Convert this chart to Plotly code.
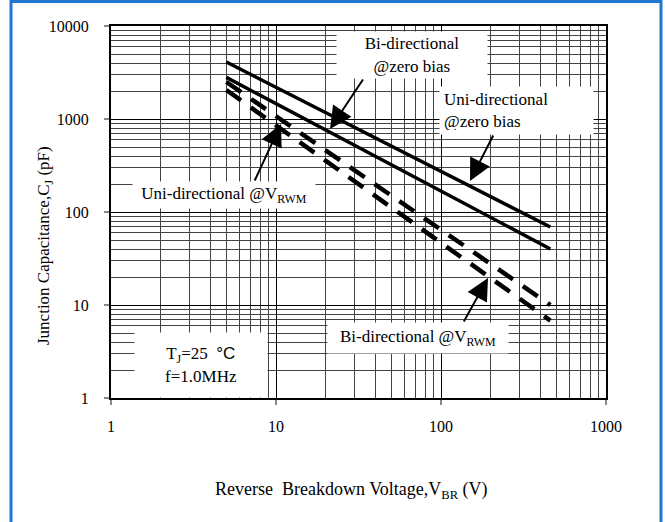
import plotly.graph_objects as go

# ---- data ----
uni_zero_v = [5, 460]
uni_zero_c = [4100, 69]
bi_zero_v = [5, 460]
bi_zero_c = [2800, 40]
uni_rwm_v = [5, 460]
uni_rwm_c = [2500, 10]
bi_rwm_v = [5, 460]
bi_rwm_c = [2050, 6.8]

x_tickvals = [1, 10, 100, 1000]
x_ticktext = ["1", "10", "100", "1000"]
y_tickvals = [1, 10, 100, 1000, 10000]
y_ticktext = ["1", "10", "100", "1000", "10000"]

FONT = "Liberation Serif"
W, H = 665, 522
L, R, T, B = 111, 606, 26, 398


def px(xp):
    return (xp - L) / (R - L)


def py(yp):
    return (B - yp) / (B - T)


def lx(xp):  # pixel -> log10 data x
    return (xp - L) / (R - L) * 3


def ly(yp):  # pixel -> log10 data y
    return 4 - (yp - T) / (B - T) * 4


fig = go.Figure()
solid = dict(color="black", width=3.5)
dashed = dict(color="black", width=4.5, dash="18px,12px")
fig.add_trace(go.Scatter(x=uni_zero_v, y=uni_zero_c, mode="lines", line=solid, showlegend=False))
fig.add_trace(go.Scatter(x=bi_zero_v, y=bi_zero_c, mode="lines", line=solid, showlegend=False))
fig.add_trace(go.Scatter(x=uni_rwm_v, y=uni_rwm_c, mode="lines", line=dashed, showlegend=False))
fig.add_trace(go.Scatter(x=bi_rwm_v, y=bi_rwm_c, mode="lines", line=dashed, showlegend=False))

minor_x = [k * 10 ** n for n in range(0, 3) for k in range(2, 10)]
minor_y = [k * 10 ** n for n in range(0, 4) for k in range(2, 10)]

axis_common = dict(
    type="log",
    showline=True, linecolor="black", linewidth=2, mirror=True,
    showgrid=True, gridcolor="black", gridwidth=1,
    ticks="outside", ticklen=5, tickcolor="#888", tickwidth=2,
    tickfont=dict(family=FONT, size=16, color="black"),
    zeroline=False,
)
fig.update_xaxes(range=[0, 3], tickvals=x_tickvals, ticktext=x_ticktext,
                 minor=dict(tickvals=minor_x, showgrid=True, gridcolor="#444", gridwidth=1, ticks=""),
                 ticklabelstandoff=8, **axis_common)
fig.update_yaxes(range=[0, 4], tickvals=y_tickvals, ticktext=y_ticktext,
                 minor=dict(tickvals=minor_y, showgrid=True, gridcolor="#444", gridwidth=1, ticks=""),
                 ticklabelstandoff=12, **axis_common)

annots = []


def box(text, x0, x1, y0, y1, align="center", pad=0):
    annots.append(dict(
        text=text, xref="paper", yref="paper",
        x=px((x0 + x1) / 2), y=py((y0 + y1) / 2), xanchor="center", yanchor="middle",
        width=(x1 - x0) - 2 * pad, height=(y1 - y0) - 2 * pad, borderpad=pad,
        showarrow=False, bgcolor="white", align=align,
        font=dict(family=FONT, size=17, color="black"),
    ))


box("Bi-directional<br>@zero bias", 337, 487, 32, 78)
box("Uni-directional<br>@zero bias", 440, 593, 87, 134, align="left", pad=4)
box("Uni-directional @V<sub>RWM</sub>", 133, 315, 182, 208)
box("Bi-directional @V<sub>RWM</sub>", 328, 508, 323, 353)
box("T<sub>J</sub>=25  <span style='font-family:Liberation Sans'>°C</span><br>f=1.0MHz", 135, 267, 333, 397)


def arrow(tail, tip):
    annots.append(dict(
        text="", xref="x", yref="y", axref="x", ayref="y",
        x=lx(tip[0]), y=ly(tip[1]), ax=lx(tail[0]), ay=ly(tail[1]),
        showarrow=True, arrowhead=2, arrowsize=2.2, arrowwidth=2, arrowcolor="black",
        standoff=0, startstandoff=0,
    ))


arrow((364, 78), (330, 129))
arrow((494, 134), (470, 181))
arrow((254, 182), (281, 124))
arrow((463, 323), (488, 278))

annots.append(dict(
    text="Reverse\u00a0\u00a0Breakdown Voltage,V<sub>BR</sub> (V)", xref="paper", yref="paper",
    x=px(351), y=py(490), xanchor="center", yanchor="middle", showarrow=False,
    font=dict(family=FONT, size=18, color="black"),
))
annots.append(dict(
    text="Junction Capacitance,C<sub>J</sub> (pF)", xref="paper", yref="paper",
    x=px(45), y=py(246), xanchor="center", yanchor="middle", showarrow=False, textangle=-90,
    font=dict(family=FONT, size=17, color="black"),
))

fig.update_layout(
    width=W, height=H,
    margin=dict(l=L, r=W - R, t=T, b=H - B),
    paper_bgcolor="white", plot_bgcolor="white",
    font=dict(family=FONT),
    annotations=annots,
    shapes=[dict(type="rect", xref="paper", yref="paper",
                 x0=px(11), x1=px(661), y0=py(530), y1=py(1.5),
                 line=dict(color="#2176d2", width=3), layer="above")],
)

fig.write_html("out.html", config={"displayModeBar": False})

# remove the default page margin so the figure sits at the window origin
with open("out.html", encoding="utf-8") as f:
    html = f.read()
html = html.replace("<head>", "<head><style>html,body{margin:0;padding:0;overflow:hidden;}</style>", 1)
with open("out.html", "w", encoding="utf-8") as f:
    f.write(html)
